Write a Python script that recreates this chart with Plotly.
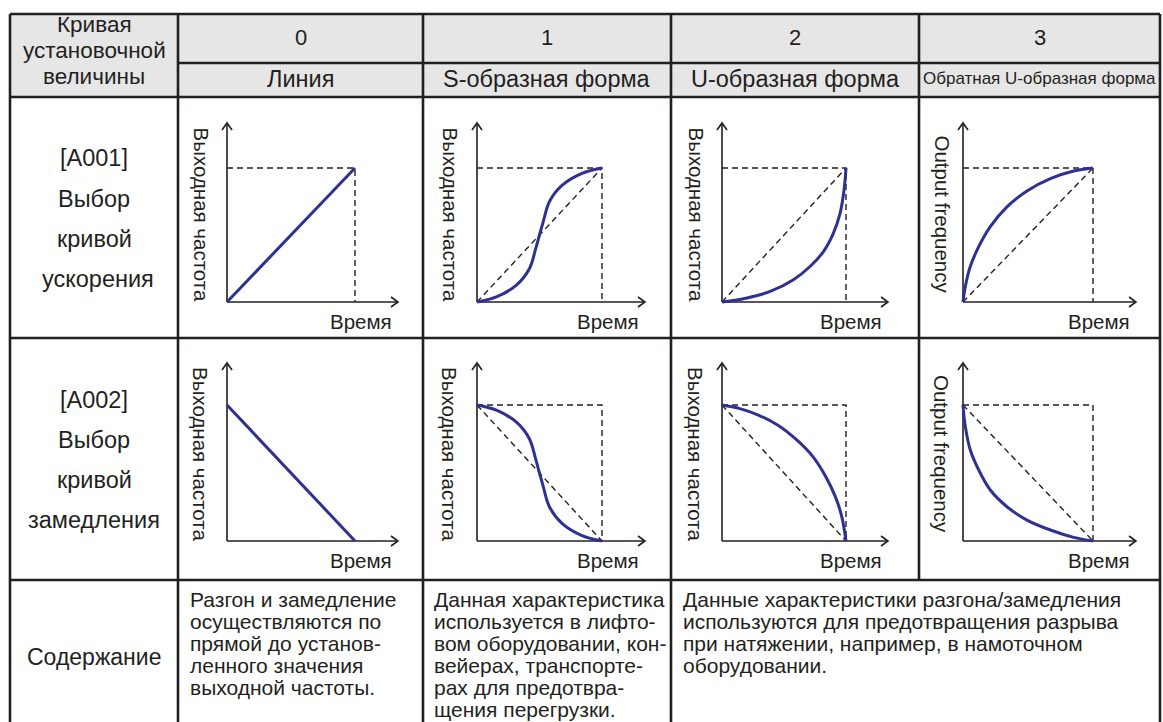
import plotly.graph_objects as go

W, H = 1163, 722
FONT = "Liberation Sans, Arial, sans-serif"
INK = "#231f20"
BLUE = "#2e3192"
HEAD_FILL = "#e6e6e6"

# ---------------- data ----------------
header_numbers = ["0", "1", "2", "3"]
header_names = ["Линия", "S-образная форма", "U-образная форма", "Обратная U-образная форма"]
corner_lines = ["Кривая", "установочной", "величины"]
row1_label = ["[A001]", "Выбор", "кривой", "ускорения"]
row2_label = ["[A002]", "Выбор", "кривой", "замедления"]
content_label = "Содержание"
content_col0 = ["Разгон и замедление", "осуществляются по", "прямой до установ-",
                "ленного значения", "выходной частоты."]
content_col1 = ["Данная характеристика", "используется в лифто-", "вом оборудовании, кон-",
                "вейерах, транспорте-", "рах для предотвра-", "щения перегрузки."]
content_col23 = ["Данные характеристики разгона/замедления",
                 "используются для предотвращения разрыва",
                 "при натяжении, например, в намоточном", "оборудовании."]
y_labels = ["Выходная частота", "Выходная частота", "Выходная частота", "Output frequency"]
x_label = "Время"

# curves: normalized time -> normalized output frequency
acc_line_t = [0.0, 1.0]
acc_line_f = [0.0, 1.0]
acc_s_t = [0.0, 0.16, 0.32, 0.42, 0.47, 0.50, 0.53, 0.58, 0.68, 0.84, 1.0]
acc_s_f = [0.0, 0.04, 0.13, 0.25, 0.40, 0.50, 0.60, 0.75, 0.87, 0.96, 1.0]
acc_u_t = [0.0, 0.201, 0.389, 0.576, 0.710, 0.818, 0.898, 0.952, 0.984, 1.0]
acc_u_f = [0.0, 0.030, 0.079, 0.166, 0.265, 0.376, 0.512, 0.661, 0.834, 1.0]
acc_iu_t = [0.0, 0.018, 0.056, 0.121, 0.210, 0.338, 0.492, 0.672, 0.851, 1.0]
acc_iu_f = [0.0, 0.116, 0.265, 0.413, 0.562, 0.710, 0.829, 0.921, 0.978, 1.0]

dec_line_t = [0.0, 1.0]
dec_line_f = [1.0, 0.0]
dec_s_t = [0.0, 0.16, 0.32, 0.42, 0.47, 0.50, 0.53, 0.58, 0.68, 0.84, 1.0]
dec_s_f = [1.0, 0.96, 0.87, 0.75, 0.60, 0.50, 0.40, 0.25, 0.13, 0.04, 0.0]
dec_u_t = [0.0, 0.137, 0.293, 0.448, 0.603, 0.733, 0.837, 0.914, 0.966, 1.0]
dec_u_f = [1.0, 0.975, 0.926, 0.853, 0.743, 0.620, 0.473, 0.326, 0.179, 0.0]
dec_iu_t = [0.0, 0.018, 0.056, 0.121, 0.210, 0.338, 0.492, 0.672, 0.851, 1.0]
dec_iu_f = [1.0, 0.841, 0.669, 0.522, 0.375, 0.252, 0.154, 0.081, 0.027, 0.0]

curves = [
    [(acc_line_t, acc_line_f), (acc_s_t, acc_s_f), (acc_u_t, acc_u_f), (acc_iu_t, acc_iu_f)],
    [(dec_line_t, dec_line_f), (dec_s_t, dec_s_f), (dec_u_t, dec_u_f), (dec_iu_t, dec_iu_f)],
]

# ---------------- layout geometry (pixels) ----------------
col_x = [10, 178, 423, 671, 919, 1160]
row_y = [14, 63, 97, 338, 580, 722]

plot_ox = [227, 477, 722, 963]
plot_w = [128, 125, 124, 130]
plot_xtip = [398, 645, 888, 1136]
plot_oy = [302, 541]
plot_h = [134, 136]
plot_ytip = [123, 363]
ylab_dx = [-26, -27, -26, -21]
PAD = 8


def fx(px):
    return px / W


def fy(py):
    return 1 - py / H


fig = go.Figure()
layout_axes = {}
shapes = []
annotations = []

# header fill
shapes.append(dict(type="rect", xref="paper", yref="paper", x0=fx(col_x[0]), x1=fx(col_x[-1]),
                   y0=fy(row_y[0]), y1=fy(row_y[2]), fillcolor=HEAD_FILL, line_width=0, layer="below"))


def hline(y, x0, x1):
    shapes.append(dict(type="line", xref="paper", yref="paper", x0=fx(x0), x1=fx(x1),
                       y0=fy(y), y1=fy(y), line=dict(color=INK, width=2.6)))


def vline(x, y0, y1):
    shapes.append(dict(type="line", xref="paper", yref="paper", x0=fx(x), x1=fx(x),
                       y0=fy(y0), y1=fy(y1), line=dict(color=INK, width=2.6)))


hline(row_y[0], col_x[0], col_x[-1])
hline(row_y[1], col_x[1], col_x[-1])
for y in row_y[2:5]:
    hline(y, col_x[0], col_x[-1])
vline(col_x[0], row_y[0], row_y[-1])
vline(col_x[-1], row_y[0], row_y[-1])
for x in col_x[1:4]:
    vline(x, row_y[0], row_y[-1])
vline(col_x[4], row_y[0], row_y[4])


def text(t, x, y, size=20, xanchor="center", angle=0):
    annotations.append(dict(text=t, x=fx(x), y=fy(y), xref="paper", yref="paper",
                            showarrow=False, xanchor=xanchor, yanchor="middle", textangle=angle,
                            font=dict(family=FONT, size=size, color=INK)))


# header texts
cx0 = (col_x[0] + col_x[1]) / 2
for t, y in zip(corner_lines, [24, 51, 77]):
    text(t, cx0, y, 22.5)
for i in range(4):
    cx = (col_x[i + 1] + col_x[i + 2]) / 2
    text(header_numbers[i], cx, 38, 22)
    if i == 3:
        text(header_names[i], cx, 79, 17)
    else:
        text(header_names[i], cx, 79, 23.5)

for t, y in zip(row1_label, [158, 199, 239, 279]):
    text(t, cx0 + (4 if t == "ускорения" else 0), y, 23.5)
for t, y in zip(row2_label, [400, 440, 480, 520]):
    text(t, cx0, y, 23.5)
text(content_label, cx0, 657, 23)

line_ys = [599, 621, 643, 665, 687, 709]
for t, y in zip(content_col0, line_ys):
    text(t, 188, y, 21, xanchor="left")
for t, y in zip(content_col1, line_ys):
    text(t, 432, y, 21, xanchor="left")
for t, y in zip(content_col23, line_ys):
    text(t, 681, y, 21, xanchor="left")

# ---------------- small diagrams ----------------
dash_style = dict(color=INK, width=1.4, dash="6px,4px")
axis_style = dict(color=INK, width=1.6)
k = 0
for r in range(2):
    for c in range(4):
        k += 1
        sfx = "" if k == 1 else str(k)
        xa, ya = "x" + sfx, "y" + sfx
        ox, w, xtip = plot_ox[c], plot_w[c], plot_xtip[c]
        oy, h, ytip = plot_oy[r], plot_h[r], plot_ytip[r]
        layout_axes["xaxis" + sfx] = dict(domain=[fx(ox - PAD), fx(xtip + PAD)],
                                          range=[-PAD / w, (xtip - ox + PAD) / w],
                                          visible=False, fixedrange=True, anchor=ya)
        layout_axes["yaxis" + sfx] = dict(domain=[fy(oy + PAD), fy(ytip - PAD)],
                                          range=[-PAD / h, (oy - ytip + PAD) / h],
                                          visible=False, fixedrange=True, anchor=xa)
        xt = (xtip - ox) / w
        yt = (oy - ytip) / h
        # dashed guides
        if not (r == 1 and c == 0):
            fig.add_trace(go.Scatter(x=[0, 1, 1], y=[1, 1, 0], mode="lines", line=dash_style,
                                     xaxis=xa, yaxis=ya, hoverinfo="skip"))
        if c > 0:
            dy = [0, 1] if r == 0 else [1, 0]
            fig.add_trace(go.Scatter(x=[0, 1], y=dy, mode="lines", line=dash_style,
                                     xaxis=xa, yaxis=ya, hoverinfo="skip"))
        # axes with open arrowheads
        fig.add_trace(go.Scatter(x=[0, 0, None, 0, xt], y=[0, yt, None, 0, 0], mode="lines",
                                 line=axis_style, xaxis=xa, yaxis=ya, hoverinfo="skip"))
        fig.add_trace(go.Scatter(x=[xt - 7 / w, xt, xt - 7 / w, None, -5 / w, 0, 5 / w],
                                 y=[5 / h, 0, -5 / h, None, yt - 7 / h, yt, yt - 7 / h],
                                 mode="lines", line=axis_style, xaxis=xa, yaxis=ya, hoverinfo="skip"))
        # curve
        t_vals, f_vals = curves[r][c]
        fig.add_trace(go.Scatter(x=t_vals, y=f_vals, mode="lines",
                                 line=dict(color=BLUE, width=3, shape="spline", smoothing=1.0),
                                 xaxis=xa, yaxis=ya, hoverinfo="skip"))
        # labels
        text(x_label, xtip - 4, oy + 19, 20.5, xanchor="right")
        text(y_labels[c], ox + ylab_dx[c], (oy + ytip) / 2 + 2, 20.5, angle=90)

fig.update_layout(width=W, height=H, margin=dict(l=0, r=0, t=0, b=0), autosize=False,
                  paper_bgcolor="white", plot_bgcolor="rgba(0,0,0,0)", showlegend=False,
                  shapes=shapes, annotations=annotations, **layout_axes)

fig.write_html("out.html", config={"displayModeBar": False},
               post_script="document.body.style.margin='0';document.body.style.overflow='hidden';")
